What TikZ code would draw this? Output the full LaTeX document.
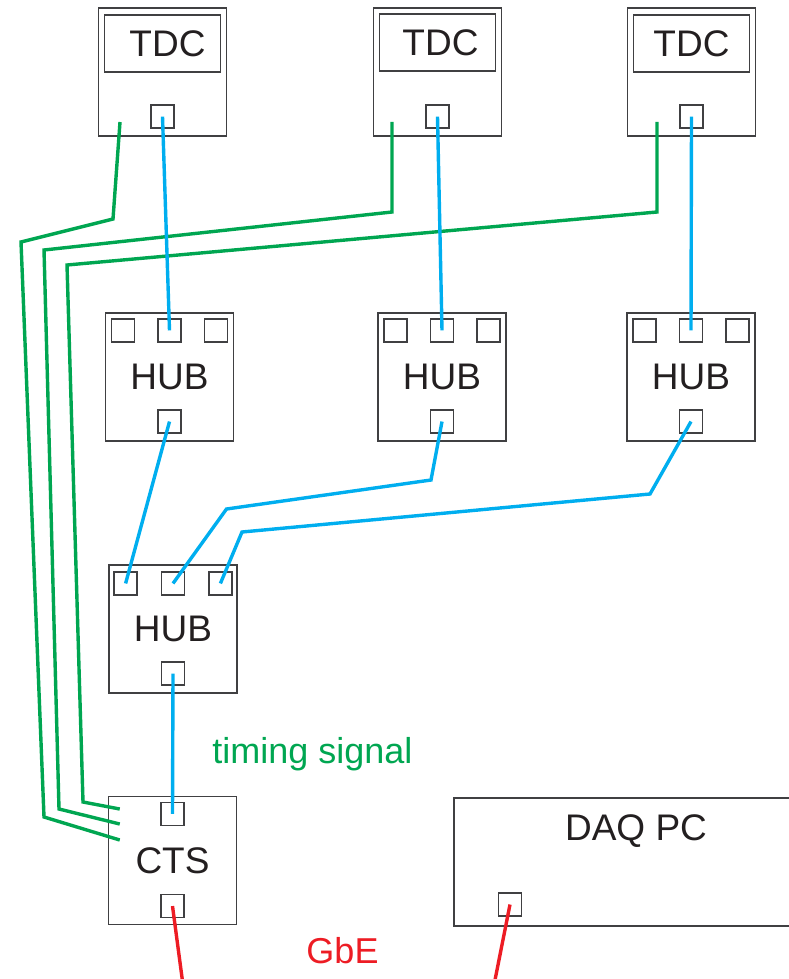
\documentclass[tikz,border=0pt]{standalone}
\usepackage{fontspec}
\setmainfont{Liberation Sans}
\usetikzlibrary{positioning}
\definecolor{trbblue}{RGB}{0,174,239}
\definecolor{trbgreen}{RGB}{0,166,81}
\definecolor{trbred}{RGB}{237,28,36}
\definecolor{boxgray}{RGB}{64,64,66}
\definecolor{textgray}{RGB}{35,31,32}

\begin{document}
\begin{tikzpicture}[
            x=1pt,y=1pt,
            board/.style={
              draw=boxgray,
              line width=1.5pt,
              minimum width=128pt,
              minimum height=128pt,
              inner sep=0pt,
              text=textgray,
              font=\fontsize{37}{44}\selectfont
            },
            tag/.style={
              draw=boxgray,
              line width=1.5pt,
              minimum width=116pt,
              minimum height=57pt,
              inner sep=0pt,
              text=textgray,
              font=\fontsize{37}{44}\selectfont
            },
            port/.style={
              draw=boxgray,
              line width=1.4pt,
              minimum size=23pt,
              inner sep=0pt
            },
            caption/.style={
              inner sep=0pt,
              anchor=base,
              font=\fontsize{36}{43}\selectfont
            },
            timing/.style={trbgreen,line width=3.4pt},
            data/.style={trbblue,line width=3.4pt},
            gbe/.style={trbred,line width=3.4pt}
            ]
            \useasboundingbox (0,0) rectangle (789,-979);

            % TDC boards
            \node[board] (tdc1) at (162.5,-72) {};
            \node[tag,below=7pt of tdc1.north] (tdc1t) {\hspace{10pt}TDC};
            \node[port,above=8pt of tdc1.south] (tdc1p) {};
            \node[board] (tdc2) at (437.5,-72) {};
            \node[tag,below=6pt of tdc2.north] (tdc2t) {\hspace{6pt}TDC};
            \node[port,above=8pt of tdc2.south] (tdc2p) {};
            \node[board] (tdc3) at (691.5,-72) {};
            \node[tag,below=7pt of tdc3.north] (tdc3t) {TDC};
            \node[port,above=8pt of tdc3.south] (tdc3p) {};

            % HUBs
            \node[board] (hub1) at (169.5,-377) 
              {HUB};
            \node[port,below=6pt of hub1.north] (hub1t2) {};
            \node[port,left=22pt of hub1t2] (hub1t1) {};
            \node[port,right=22pt of hub1t2] (hub1t3) {};
            \node[port,above=8pt of hub1.south] (hub1b) {};
            \node[board] (hub2) at (442,-377) 
              {HUB};
            \node[port,below=6pt of hub2.north] (hub2t2) {};
            \node[port,left=22pt of hub2t2] (hub2t1) {};
            \node[port,right=22pt of hub2t2] (hub2t3) {};
            \node[port,above=8pt of hub2.south] (hub2b) {};
            \node[board] (hub3) at (691,-377) 
              {HUB};
            \node[port,below=6pt of hub3.north] (hub3t2) {};
            \node[port,left=22pt of hub3t2] (hub3t1) {};
            \node[port,right=22pt of hub3t2] (hub3t3) {};
            \node[port,above=8pt of hub3.south] (hub3b) {};
            \node[board] (hub4) at (173,-629) 
              {HUB};
            \node[port,below=7pt of hub4.north] (hub4t2) {};
            \node[port,left=23pt of hub4t2] (hub4t1) {};
            \node[port,right=23pt of hub4t2] (hub4t3) {};
            \node[port,above=8pt of hub4.south] (hub4b) {};

            % CTS and DAQ PC
            \node[board] (cts) at (172.5,-860.5) 
              {CTS};
            \node[port,below=6pt of cts.north] (ctst) {};
            \node[port,above=7pt of cts.south] (ctsb) {};
            \node[board,minimum width=360pt,anchor=north west] (daq) at (453,-797) {};
            \node[caption,text=textgray,font=\fontsize{37}{44}\selectfont] (daqt) at (636,-840) 
              {DAQ PC};
            \node[port] (daqp) at (510,-904.5) {};

            \node[caption,text=trbgreen] (timinglbl) at (312.5,-763) 
              {timing signal};
            \node[caption,text=trbred] (gbelbl) at (342.5,-963) 
              {GbE};

            \coordinate (tdc1g) at (120,-122);
            \coordinate (tdc2g) at (392,-122);
            \coordinate (tdc3g) at (657,-122);
            \coordinate (cts1) at ([shift={(12pt,20.5pt)}]cts.west);
            \coordinate (cts2) at ([shift={(12pt,36.5pt)}]cts.west);
            \coordinate (cts3) at ([shift={(12pt,51.5pt)}]cts.west);
            \coordinate (gbe1) at (183,-985);
            \coordinate (gbe2) at (494,-985);

            \draw[timing] (tdc1g) -- (113,-219) -- (21,-242) -- (44,-817) -- (cts1);
            \draw[timing] (tdc2g) -- (392,-212) -- (44,-250) -- (59,-809) -- (cts2);
            \draw[timing] (tdc3g) -- (657,-212) -- (67,-265) -- (83,-802) -- (cts3);

            \draw[data] (tdc1p.center) -- (hub1t2.center);
            \draw[data] (tdc2p.center) -- (hub2t2.center);
            \draw[data] (tdc3p.center) -- (hub3t2.center);
            \draw[data] (hub1b.center) -- (hub4t1.center);
            \draw[data] (hub2b.center) -- (431,-480) -- (226.5,-509) -- (hub4t2.center);
            \draw[data] (hub3b.center) -- (650,-494) -- (242,-532) -- (hub4t3.center);
            \draw[data] (hub4b.center) -- (ctst.center);

            \draw[gbe] (ctsb.center) -- (gbe1);
            \draw[gbe] (daqp.center) -- (gbe2);
        \end{tikzpicture}
\end{document}
